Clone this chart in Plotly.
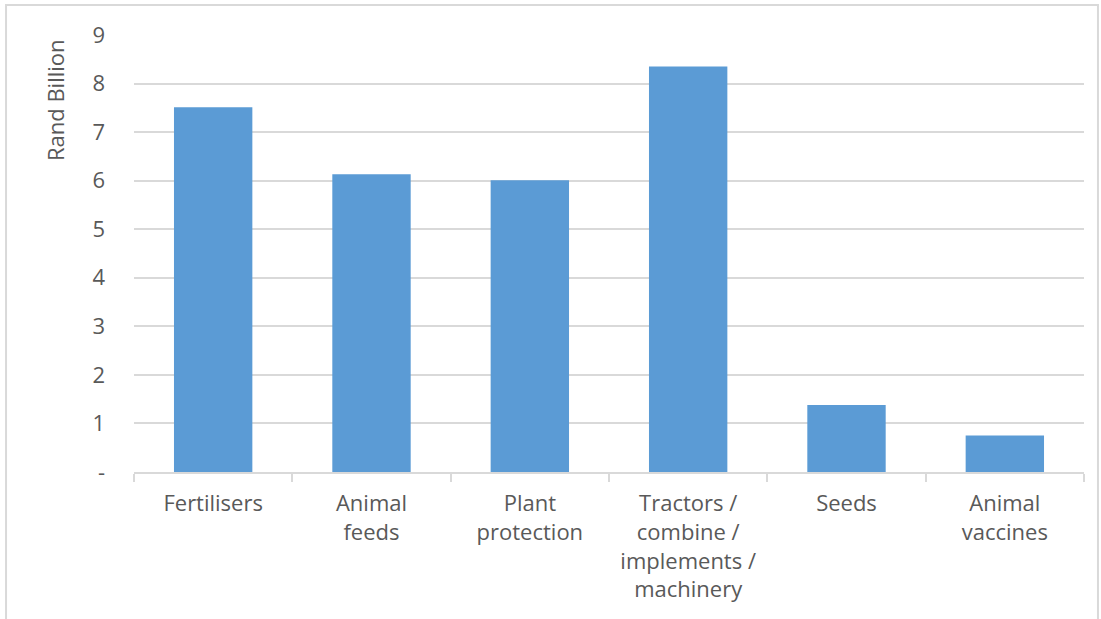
import plotly.graph_objects as go

categories = [
    "Fertilisers",
    "Animal<br>feeds",
    "Plant<br>protection",
    "Tractors /<br>combine /<br>implements /<br>machinery",
    "Seeds",
    "Animal<br>vaccines",
]
values = [7.51, 6.13, 6.01, 8.35, 1.38, 0.75]
y_tick_vals = [0, 1, 2, 3, 4, 5, 6, 7, 8, 9]
y_tick_text = ["-", "1", "2", "3", "4", "5", "6", "7", "8", "9"]

text_color = "#595959"
grid_color = "#d9d9d9"
font_family = "'Open Sans', Lato, sans-serif"
font_size = 22

fig = go.Figure(
    go.Bar(
        x=categories,
        y=values,
        marker=dict(color="#5b9bd5", line=dict(width=0)),
        width=0.495,
    )
)

fig.update_layout(
    width=1101,
    height=619,
    margin=dict(l=134, r=17, t=35, b=147),
    paper_bgcolor="white",
    plot_bgcolor="white",
    font=dict(family=font_family, size=font_size, color=text_color),
    showlegend=False,
    shapes=[
        dict(
            type="rect",
            xref="paper", yref="paper",
            x0=-0.1347, x1=1.0147, y0=-0.4, y1=1.0686,
            line=dict(color=grid_color, width=2),
            layer="below",
        )
    ],
    annotations=[
        dict(
            text="Rand Billion",
            xref="paper", yref="paper",
            x=-0.0832, y=0.851,
            xanchor="center", yanchor="middle",
            textangle=-90,
            showarrow=False,
            font=dict(family=font_family, size=font_size, color=text_color),
        )
    ],
)

fig.update_xaxes(
    showline=True,
    linecolor=grid_color,
    linewidth=2,
    ticks="outside",
    tickson="boundaries",
    ticklen=8,
    tickwidth=2,
    tickcolor=grid_color,
    showgrid=False,
    ticklabelstandoff=11,
    tickfont=dict(size=font_size, color=text_color),
)

fig.update_yaxes(
    range=[0, 9],
    tickvals=y_tick_vals,
    ticktext=y_tick_text,
    showgrid=True,
    gridcolor=grid_color,
    gridwidth=2,
    zeroline=False,
    showline=False,
    ticks="",
    ticklabelstandoff=28,
    tickfont=dict(size=font_size, color=text_color),
)

fig.write_html("out.html")
